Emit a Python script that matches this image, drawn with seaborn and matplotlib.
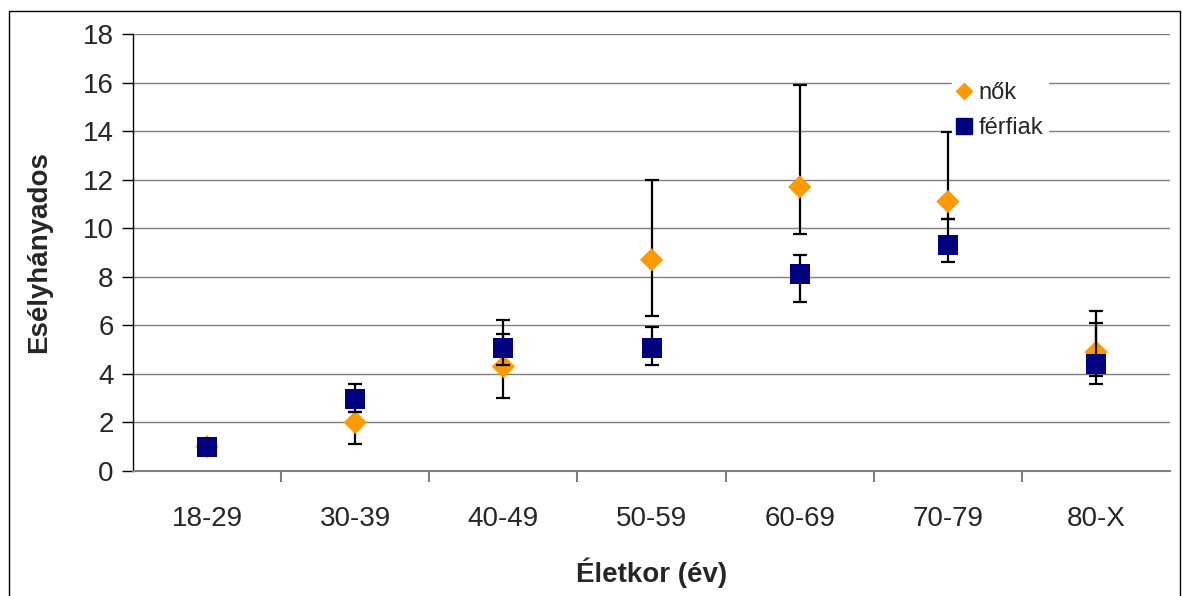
import seaborn as sns
import matplotlib.pyplot as plt
import pandas as pd
from matplotlib.lines import Line2D
from matplotlib.patches import Rectangle

korcsoport = ["18-29", "30-39", "40-49", "50-59", "60-69", "70-79", "80-X"]

nok = [1.0, 2.0, 4.3, 8.7, 11.7, 11.1, 4.9]
nok_also = [1.0, 1.1, 3.0, 6.4, 9.75, 10.4, 3.6]
nok_felso = [1.0, 2.45, 6.2, 12.0, 15.9, 13.95, 6.6]

ferfiak = [1.0, 2.95, 5.05, 5.05, 8.1, 9.3, 4.4]
ferfiak_also = [1.0, 2.45, 4.35, 4.35, 6.95, 8.6, 3.9]
ferfiak_felso = [1.0, 3.6, 5.65, 5.95, 8.9, 10.4, 6.1]

df = pd.DataFrame({"kor": korcsoport, "nok": nok, "ferfiak": ferfiak})
pos = list(range(len(korcsoport)))

sns.set_style("white")
plt.rcParams['font.family'] = ['Liberation Sans', 'DejaVu Sans']

fig, ax = plt.subplots(figsize=(11.82, 5.96), dpi=100)
fig.subplots_adjust(left=0.1125, right=0.99, bottom=0.2097, top=0.943)

# nők
err_n = [[n - a for n, a in zip(nok, nok_also)], [f - n for n, f in zip(nok, nok_felso)]]
ax.errorbar(pos, nok, yerr=err_n, fmt="none", ecolor="black", elinewidth=1.6, capsize=5, capthick=1.6, zorder=3)
sns.scatterplot(data=df, x="kor", y="nok", ax=ax, marker="D", s=140, color="#FF9900", edgecolor="none", zorder=4)

# férfiak
err_f = [[n - a for n, a in zip(ferfiak, ferfiak_also)], [f - n for n, f in zip(ferfiak, ferfiak_felso)]]
ax.errorbar(pos, ferfiak, yerr=err_f, fmt="none", ecolor="black", elinewidth=1.6, capsize=5, capthick=1.6, zorder=5)
sns.scatterplot(data=df, x="kor", y="ferfiak", ax=ax, marker="s", s=210, color="#000080", edgecolor="none", zorder=6)

ax.set_ylim(0, 18)
ax.set_yticks(range(0, 19, 2))
ax.set_xlim(-0.5, len(korcsoport) - 0.5)
ax.set_xticks(pos)
ax.set_xticklabels(korcsoport)
ax.set_xticks([p + 0.5 for p in pos[:-1]], minor=True)
ax.yaxis.grid(True, color="#7f7f7f", linewidth=1)
ax.set_axisbelow(True)

ax.tick_params(axis="y", which="major", left=True, length=8, width=1, color="black", labelsize=20, pad=6)
ax.tick_params(axis="x", which="major", bottom=False, labelsize=20, pad=22)
ax.tick_params(axis="x", which="minor", bottom=True, length=8, width=1.5, color="#7f7f7f")

for s in ["top", "right"]:
    ax.spines[s].set_visible(False)
ax.spines["left"].set_color("black")
ax.spines["left"].set_linewidth(1)
ax.spines["bottom"].set_color("#7f7f7f")
ax.spines["bottom"].set_linewidth(1.5)

ax.set_xlabel("Életkor (év)", fontsize=20, fontweight="bold", labelpad=18)
ax.set_ylabel("Esélyhányados", fontsize=20, fontweight="bold", labelpad=22)

handles = [
    Line2D([], [], marker="D", linestyle="none", color="#FF9900", markersize=8),
    Line2D([], [], marker="s", linestyle="none", color="#000080", markersize=11),
]
leg = ax.legend(handles, ["nők", "férfiak"], loc="upper left", bbox_to_anchor=(0.79, 0.90),
                frameon=True, fancybox=False, framealpha=1, edgecolor="white", facecolor="white",
                fontsize=17, handlelength=0.6, handletextpad=0.3, borderpad=0.2, labelspacing=0.55,
                borderaxespad=0)

fig.patches.append(Rectangle((9 / 1182, -0.05), 1171 / 1182, 1.05 - 11 / 596, transform=fig.transFigure,
                             fill=False, edgecolor="black", linewidth=1))

plt.savefig("out.png", dpi=100)
